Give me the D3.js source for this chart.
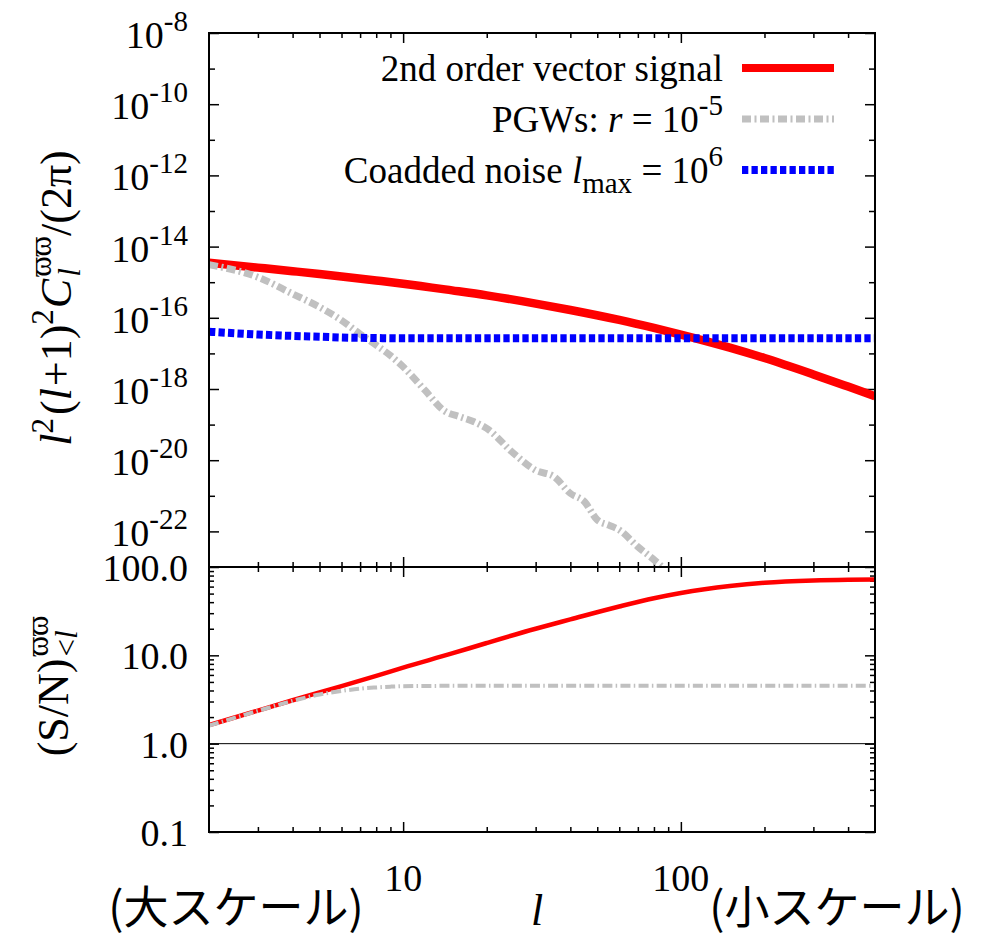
<!DOCTYPE html>
<html><head><meta charset="utf-8">
<script src="https://cdn.jsdelivr.net/npm/d3@7"></script>
<style>
html,body{margin:0;padding:0;background:#fff;}
svg{display:block;}
text{white-space:pre;}
</style></head>
<body>
<svg id="chart" width="982" height="938"></svg>
<script>
// ---------------- data ----------------
const signalL  = [2,3,4,5,6,8,10,15,20,30,40,60,80,100,150,200,300,400,500];
const signalCl = [3.55e-15,2.57e-15,2.04e-15,1.70e-15,1.45e-15,1.12e-15,9.1e-16,5.9e-16,4.27e-16,2.51e-16,1.66e-16,8.7e-17,5.19e-17,3.39e-17,1.45e-17,7.4e-18,2.57e-18,1.17e-18,6.3e-19];
const pgwL  = [2,3,4,5,6,7,8,9,10,12,14,16,18,20,25,30,35,40,45,50,55,60,70,80,90,100];
const pgwCl = [3.1e-15,1.38e-15,4.7e-16,2.0e-16,8.5e-17,3.5e-17,1.7e-17,8.7e-18,4.2e-18,9.1e-19,2.5e-19,1.66e-19,1.2e-19,7.8e-20,1.55e-20,5.2e-21,3.4e-21,1.17e-21,6.8e-22,2.1e-22,1.5e-22,1.1e-22,3.7e-23,1.6e-23,7e-24,3e-24];
const noiseL  = [2,3,4,5,6,8,10,20,50,100,200,500];
const noiseCl = [4.07e-17,3.4e-17,3.1e-17,2.95e-17,2.8e-17,2.7e-17,2.65e-17,2.65e-17,2.65e-17,2.65e-17,2.65e-17,2.65e-17];
const snSignalL = [2,3,4,5,6,8,10,15,20,30,40,60,80,100,150,200,300,400,500];
const snSignal  = [1.62,2.37,3.1,3.8,4.48,5.85,7.25,10.5,13.8,20,25.5,35.7,44.3,50.8,61,66.4,70.5,71.9,72.4];
const snPgwL = [2,3,4,5,6,7,8,9,10,15,20,50,100,500];
const snPgw  = [1.6,2.35,3.05,3.6,3.95,4.2,4.33,4.42,4.47,4.52,4.53,4.53,4.53,4.53];

const xMajorTicks = [10,100];
const xTickLabels = ["10","100"];
const xMinorTicks = [3,4,5,6,7,8,9,20,30,40,50,60,70,80,90,200,300,400];
const yTopMajorTicks = [1e-8,1e-10,1e-12,1e-14,1e-16,1e-18,1e-20,1e-22];
const yTopTickExps   = ["-8","-10","-12","-14","-16","-18","-20","-22"];
const yTopMinorTicks = [1e-9,1e-11,1e-13,1e-15,1e-17,1e-19,1e-21];
const yBotMajorTicks = [0.1,1,10,100];
const yBotTickLabels = ["0.1","1.0","10.0","100.0"];
const yBotMinorTicks = [0.2,0.3,0.4,0.5,0.6,0.7,0.8,0.9,2,3,4,5,6,7,8,9,20,30,40,50,60,70,80,90];

// ---------------- layout ----------------
const L = 209, R = 875, T = 33, M = 567, B = 832;
const SERIF = "'Liberation Serif','Times New Roman','DejaVu Serif',serif";
const CJK = "'Noto Sans CJK JP','Noto Sans CJK SC',sans-serif";
const RED = "#ff0000", GRAY = "#c0c0c0", BLUE = "#0000ff";

const svg = d3.select("#chart");
const x = d3.scaleLog().domain([2,500]).range([L,R]);
const yTop = d3.scaleLog().domain([1e-23,1e-8]).range([M,T]);
const yBot = d3.scaleLog().domain([0.1,100]).range([B,M]);

// rich text helper: segments laid out sequentially; a segment may hold several styled parts
function rich(parent, segs, opts) {
  const g = parent.append("g");
  let xpos = 0, prevStart = 0, prevEnd = 0, maxEnd = 0;
  const els = [];
  segs.forEach(s => {
    const size = s.size || opts.size;
    const start = s.overlay ? prevStart : xpos;
    const el = g.append("text")
      .attr("x", start + (s.dx||0))
      .attr("y", -(s.shift||0))
      .attr("xml:space","preserve")
      .style("font-family", s.font || opts.font || SERIF)
      .style("font-size", size + "px")
      .attr("fill", "#000");
    const parts = s.parts || [{t:s.t, italic:s.italic}];
    parts.forEach(p => el.append("tspan").style("font-style", p.italic ? "italic" : "normal").text(p.t));
    const w = el.node().getComputedTextLength() + (s.dx||0);
    const end = start + w;
    if (s.overlay) { xpos = Math.max(prevEnd, end); }
    else { prevStart = start; prevEnd = end; xpos = end; }
    maxEnd = Math.max(maxEnd, xpos);
    els.push(el);
  });
  const W = maxEnd;
  let off = 0;
  if (opts.anchor === "end") off = -W;
  else if (opts.anchor === "middle") off = -W/2;
  els.forEach(el => el.attr("x", +el.attr("x") + off));
  return g;
}

// ---------------- clip paths ----------------
const defs = svg.append("defs");
defs.append("clipPath").attr("id","clipTop").append("rect").attr("x",L).attr("y",T).attr("width",R-L).attr("height",M-T);
defs.append("clipPath").attr("id","clipBot").append("rect").attr("x",L).attr("y",M).attr("width",R-L).attr("height",B-M);

// ---------------- axes (ticks) ----------------
function ticks(axisGen, vals, size, tx, ty) {
  const g = svg.append("g").attr("transform", `translate(${tx},${ty})`)
    .call(axisGen.tickValues(vals).tickSizeInner(-size).tickSizeOuter(0).tickFormat(""));
  g.select(".domain").remove();
  g.selectAll(".tick line").attr("stroke","#000").attr("stroke-width",1.5);
  g.selectAll(".tick text").remove();
}
// top panel
ticks(d3.axisLeft(yTop), yTopMajorTicks, 10, L, 0);
ticks(d3.axisLeft(yTop), yTopMinorTicks, 6, L, 0);
ticks(d3.axisRight(yTop), yTopMajorTicks, 10, R, 0);
ticks(d3.axisRight(yTop), yTopMinorTicks, 6, R, 0);
ticks(d3.axisTop(x), xMajorTicks, 10, 0, T);
ticks(d3.axisTop(x), xMinorTicks, 5, 0, T);
ticks(d3.axisBottom(x), xMajorTicks, 10, 0, M);
ticks(d3.axisBottom(x), xMinorTicks, 5, 0, M);
// bottom panel
ticks(d3.axisLeft(yBot), yBotMajorTicks, 10, L, 0);
ticks(d3.axisLeft(yBot), yBotMinorTicks, 5, L, 0);
ticks(d3.axisRight(yBot), yBotMajorTicks, 10, R, 0);
ticks(d3.axisRight(yBot), yBotMinorTicks, 5, R, 0);
ticks(d3.axisTop(x), xMajorTicks, 10, 0, M);
ticks(d3.axisTop(x), xMinorTicks, 5, 0, M);
ticks(d3.axisBottom(x), xMajorTicks, 10, 0, B);
ticks(d3.axisBottom(x), xMinorTicks, 5, 0, B);

// reference line at S/N = 1
svg.append("line").attr("x1",L).attr("x2",R).attr("y1",yBot(1)).attr("y2",yBot(1))
  .attr("stroke","#000").attr("stroke-width",1);

// ---------------- curves ----------------
const topLine = d3.line().x(d => x(d[0])).y(d => yTop(d[1])).curve(d3.curveMonotoneX);
const botLine = d3.line().x(d => x(d[0])).y(d => yBot(d[1])).curve(d3.curveMonotoneX);
const zip = (a,b) => a.map((v,i) => [v,b[i]]);

const gTop = svg.append("g").attr("clip-path","url(#clipTop)");
gTop.append("path").attr("d", topLine(zip(signalL,signalCl)))
  .attr("fill","none").attr("stroke",RED).attr("stroke-width",8.5);
gTop.append("path").attr("d", topLine(zip(pgwL,pgwCl)))
  .attr("fill","none").attr("stroke",GRAY).attr("stroke-width",7).attr("stroke-dasharray","9,3.5,2,3.5");
gTop.append("path").attr("d", topLine(zip(noiseL,noiseCl)))
  .attr("fill","none").attr("stroke",BLUE).attr("stroke-width",8).attr("stroke-dasharray","6.3,3.2");

const gBot = svg.append("g").attr("clip-path","url(#clipBot)");
gBot.append("path").attr("d", botLine(zip(snSignalL,snSignal)))
  .attr("fill","none").attr("stroke",RED).attr("stroke-width",4.5);
gBot.append("path").attr("d", botLine(zip(snPgwL,snPgw)))
  .attr("fill","none").attr("stroke",GRAY).attr("stroke-width",4).attr("stroke-dasharray","10,3.3,1.5,3.3");

// ---------------- borders ----------------
svg.append("rect").attr("x",L).attr("y",T).attr("width",R-L).attr("height",M-T)
  .attr("fill","none").attr("stroke","#000").attr("stroke-width",2);
svg.append("rect").attr("x",L).attr("y",M).attr("width",R-L).attr("height",B-M)
  .attr("fill","none").attr("stroke","#000").attr("stroke-width",2);

// ---------------- tick labels ----------------
const TS = 38;
yTopMajorTicks.forEach((v,i) => {
  rich(svg, [{t:"10"},{t:yTopTickExps[i], size:29, shift:17}], {size:TS, anchor:"end"})
    .attr("transform", `translate(188,${yTop(v)+15})`);
});
yBotMajorTicks.forEach((v,i) => {
  svg.append("text").attr("x",188).attr("y",yBot(v)+14).attr("text-anchor","end")
    .style("font-family",SERIF).style("font-size",TS+"px").text(yBotTickLabels[i]);
});
xMajorTicks.forEach((v,i) => {
  svg.append("text").attr("x",x(v)).attr("y",891).attr("text-anchor","middle")
    .style("font-family",SERIF).style("font-size",TS+"px").text(xTickLabels[i]);
});

// ---------------- axis titles ----------------
const AS = 44;
rich(svg, [
  {t:"l", italic:true},
  {t:"2", size:31, shift:18},
  {t:"(", dx:3},
  {t:"l", italic:true},
  {t:"+1)", dx:2},
  {t:"2", size:31, shift:18},
  {t:"C", italic:true, dx:1},
  {t:"ϖϖ", size:31, shift:20, dx:2},
  {t:"l", italic:true, size:31, shift:-9, overlay:true, dx:2},
  {t:"/(2π)"}
], {size:AS, anchor:"middle"}).attr("transform","translate(71,298) rotate(-90)");

rich(svg, [
  {t:"(S/N)"},
  {t:"ϖϖ", size:31, shift:20, dx:2},
  {parts:[{t:"<"},{t:"l", italic:true}], size:31, shift:-9, overlay:true, dx:2}
], {size:AS, anchor:"middle"}).attr("transform","translate(68,686) rotate(-90)");

// x title
svg.append("text").attr("x",537).attr("y",925).attr("text-anchor","middle")
  .style("font-family",SERIF).style("font-size","44px").style("font-style","italic").text("l");
svg.append("text").attr("x",236).attr("y",924).attr("text-anchor","middle")
  .style("font-family",CJK).style("font-size","45px").text("(大スケール)");
svg.append("text").attr("x",837).attr("y",924).attr("text-anchor","middle")
  .style("font-family",CJK).style("font-size","45px").text("(小スケール)");

// ---------------- legend ----------------
const LS = 37;
const legY = [68,119,170];
rich(svg, [{t:"2nd order vector signal"}], {size:LS, anchor:"end"})
  .attr("transform",`translate(723,${legY[0]+13})`);
rich(svg, [{t:"PGWs: "},{t:"r", italic:true},{t:" = 10"},{t:"-5", size:29, shift:17}], {size:LS, anchor:"end"})
  .attr("transform",`translate(723,${legY[1]+13})`);
rich(svg, [{t:"Coadded noise "},{t:"l", italic:true},{t:"max", size:29, shift:-10},{t:" = 10"},{t:"6", size:29, shift:17}], {size:LS, anchor:"end"})
  .attr("transform",`translate(723,${legY[2]+13})`);
const legStyles = [
  {c:RED, w:8, d:null},
  {c:GRAY, w:7, d:"9,3.5,2,3.5"},
  {c:BLUE, w:8, d:"6.3,3.2"}
];
legStyles.forEach((s,i) => {
  svg.append("line").attr("x1",742).attr("x2",834).attr("y1",legY[i]).attr("y2",legY[i])
    .attr("stroke",s.c).attr("stroke-width",s.w).attr("stroke-dasharray",s.d);
});
</script>
</body></html>
